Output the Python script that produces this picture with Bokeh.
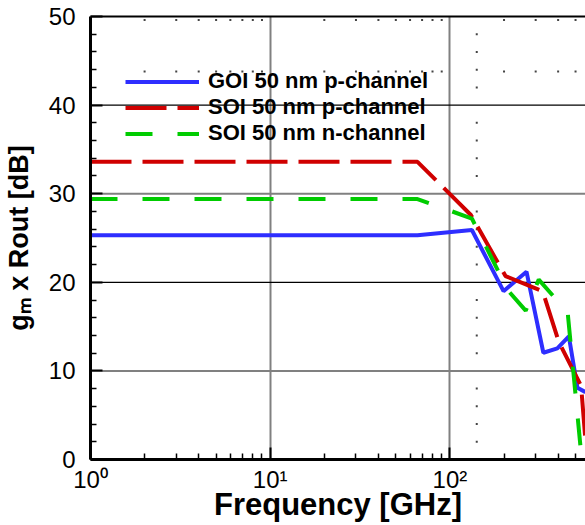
from bokeh.plotting import figure
from bokeh.models import LogAxis, FixedTicker, Span
from bokeh.embed import file_html
from bokeh.resources import INLINE

FONT = "Liberation Sans"

# ---- data ----
freq_goi = [1, 66, 132.5, 198.7, 266.7, 331, 396, 459, 512, 568]
gain_goi = [25.3, 25.3, 25.9, 19.0, 21.2, 12.05, 12.55, 13.9, 8.1, 7.6]

freq_soi_p = [1, 66, 130.8, 203.8, 328, 403, 537, 568]
gain_soi_p = [33.6, 33.6, 27.6, 20.7, 19.0, 13.3, 8.3, 2.1]

freq_soi_n = [1, 66, 132.5, 210, 264, 312, 452, 537]
gain_soi_n = [29.4, 29.4, 27.2, 19.1, 16.8, 20.3, 16.6, 0.7]

x_major = [1, 10, 100]
x_minor = [2, 3, 4, 5, 6, 7, 8, 9, 20, 30, 40, 50, 60, 70, 80, 90, 200, 300, 400, 500]
x_labels = {1: "10\u2070", 10: "10\u00b9", 100: "10\u00b2"}
y_major = [0, 10, 20, 30, 40, 50]
y_minor = [v for v in range(2, 50, 2) if v % 10 != 0]

grid_black = [20, 40]
grid_gray = [10, 30]
dot_rows = [43.8, 49.6]
dot_col = 141

p = figure(width=585, height=525, x_axis_type="log", x_range=(1, 568), y_range=(0, 50),
           output_backend="svg", toolbar_location=None,
           min_border_left=89, min_border_right=0, min_border_top=16, min_border_bottom=66)
p.outline_line_color = None
p.background_fill_color = "white"
p.border_fill_color = "white"

# axes
xa = p.xaxis[0]
xa.ticker = FixedTicker(ticks=x_major, minor_ticks=x_minor)
xa.major_label_overrides = x_labels
ya = p.yaxis[0]
ya.ticker = FixedTicker(ticks=y_major, minor_ticks=y_minor)
for ax in (xa, ya):
    ax.axis_line_width = 3
    ax.axis_line_color = "black"
    ax.major_tick_in = 12
    ax.major_tick_out = 0
    ax.minor_tick_in = 6
    ax.minor_tick_out = 0
    ax.major_tick_line_width = 2
    ax.minor_tick_line_width = 1.5
    ax.major_label_text_font = FONT
    ax.major_label_text_font_size = "24px"
    ax.major_label_text_color = "black"
    ax.axis_label_text_font = FONT
    ax.axis_label_text_font_style = "bold"
    ax.axis_label_text_color = "black"
ya.major_label_standoff = 15
xa.major_label_standoff = 6

ya.axis_label = "g\u2098 x Rout [dB]"
ya.axis_label_text_font_size = "27px"
ya.axis_label_standoff = 12

xa.axis_label = "Frequency [GHz]"
xa.axis_label_text_font_size = "31px"
xa.axis_label_standoff = -9

top = LogAxis(ticker=FixedTicker(ticks=[]), axis_line_width=2, axis_line_color="black",
              major_tick_in=0, major_tick_out=0, minor_tick_in=0, minor_tick_out=0,
              major_label_standoff=0, major_label_text_font_size="0px")
p.add_layout(top, "above")

# grid
p.xgrid.ticker = FixedTicker(ticks=[10, 100])
p.xgrid.grid_line_color = "#808080"
p.xgrid.grid_line_width = 2
p.ygrid.visible = False
for v in grid_black:
    p.add_layout(Span(location=v, dimension="width", line_color="black", line_width=1.3, level="underlay"))
for v in grid_gray:
    p.add_layout(Span(location=v, dimension="width", line_color="#808080", line_width=2, level="underlay"))

# sparse dotted minor grid
dx, dy = [], []
for r in dot_rows:
    for m in x_minor:
        dx.append(m); dy.append(r)
for m in y_minor:
    dx.append(dot_col); dy.append(m)
p.scatter(dx, dy, marker="square", size=2, color="#444444", line_width=0)

# data lines
p.line(freq_goi, gain_goi, line_color="#2e2eff", line_width=4, legend_label="GOI 50 nm p-channel")
p.line(freq_soi_p, gain_soi_p, line_color="#d00000", line_width=4, line_dash="41 11",
       legend_label="SOI 50 nm p-channel")
p.line(freq_soi_n, gain_soi_n, line_color="#00cc00", line_width=4, line_dash="27 25",
       legend_label="SOI 50 nm n-channel")

lg = p.legend[0]
lg.location = (35, 313)
lg.label_text_font = FONT
lg.label_text_font_size = "22px"
lg.label_text_font_style = "bold"
lg.label_text_color = "black"
lg.glyph_width = 74
lg.glyph_height = 25
lg.label_height = 25
lg.label_standoff = 9
lg.spacing = 0
lg.padding = 0
lg.margin = 0
lg.border_line_alpha = 0
lg.background_fill_alpha = 0

open("out.html", "w").write(file_html(p, INLINE))
